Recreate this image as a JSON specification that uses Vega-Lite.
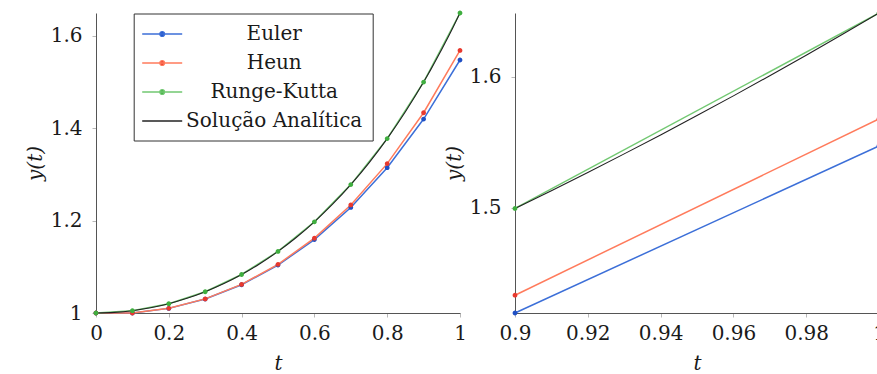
{
  "$schema": "https://vega.github.io/schema/vega-lite/v6.json",
  "background": "white",
  "padding": {"left": 25, "top": 10, "right": 0, "bottom": 0},
  "bounds": "flush",
  "spacing": 55,
  "config": {
    "view": {"stroke": null},
    "axis": {
      "labelFont": "DejaVu Serif",
      "labelFontSize": 20,
      "labelColor": "#1a1a1a",
      "titleFont": "DejaVu Serif",
      "titleFontSize": 20,
      "titleFontStyle": "italic",
      "titleFontWeight": "normal",
      "titleColor": "#1a1a1a",
      "domainColor": "#555555",
      "domainWidth": 1,
      "tickColor": "#b8b8b8",
      "tickSize": 4,
      "grid": false
    },
    "axisX": {"labelPadding": 6, "titlePadding": 10, "labelFlush": false},
    "axisY": {"labelPadding": 10, "titlePadding": 5}
  },
  "datasets": {
    "curves": [
      {"t": 0.0, "y": 1.0, "serie": "Euler"},
      {"t": 0.1, "y": 1.0, "serie": "Euler"},
      {"t": 0.2, "y": 1.01, "serie": "Euler"},
      {"t": 0.3, "y": 1.0302, "serie": "Euler"},
      {"t": 0.4, "y": 1.0611, "serie": "Euler"},
      {"t": 0.5, "y": 1.1036, "serie": "Euler"},
      {"t": 0.6, "y": 1.1587, "serie": "Euler"},
      {"t": 0.7, "y": 1.2282, "serie": "Euler"},
      {"t": 0.8, "y": 1.3142, "serie": "Euler"},
      {"t": 0.9, "y": 1.4194, "serie": "Euler"},
      {"t": 1.0, "y": 1.5471, "serie": "Euler"},
      {"t": 0.0, "y": 1.0, "serie": "Heun"},
      {"t": 0.1, "y": 1.0, "serie": "Heun"},
      {"t": 0.2, "y": 1.0101, "serie": "Heun"},
      {"t": 0.3, "y": 1.0305, "serie": "Heun"},
      {"t": 0.4, "y": 1.0618, "serie": "Heun"},
      {"t": 0.5, "y": 1.1052, "serie": "Heun"},
      {"t": 0.6, "y": 1.1618, "serie": "Heun"},
      {"t": 0.7, "y": 1.2336, "serie": "Heun"},
      {"t": 0.8, "y": 1.323, "serie": "Heun"},
      {"t": 0.9, "y": 1.433, "serie": "Heun"},
      {"t": 1.0, "y": 1.5678, "serie": "Heun"},
      {"t": 0.0, "y": 1.0, "serie": "Runge-Kutta"},
      {"t": 0.1, "y": 1.005, "serie": "Runge-Kutta"},
      {"t": 0.2, "y": 1.0202, "serie": "Runge-Kutta"},
      {"t": 0.3, "y": 1.046, "serie": "Runge-Kutta"},
      {"t": 0.4, "y": 1.0833, "serie": "Runge-Kutta"},
      {"t": 0.5, "y": 1.1331, "serie": "Runge-Kutta"},
      {"t": 0.6, "y": 1.1972, "serie": "Runge-Kutta"},
      {"t": 0.7, "y": 1.2776, "serie": "Runge-Kutta"},
      {"t": 0.8, "y": 1.3771, "serie": "Runge-Kutta"},
      {"t": 0.9, "y": 1.4993, "serie": "Runge-Kutta"},
      {"t": 1.0, "y": 1.6487, "serie": "Runge-Kutta"},
      {"t": 0.0, "y": 1.0, "serie": "Solução Analítica"},
      {"t": 0.05, "y": 1.00125, "serie": "Solução Analítica"},
      {"t": 0.1, "y": 1.00501, "serie": "Solução Analítica"},
      {"t": 0.15, "y": 1.01131, "serie": "Solução Analítica"},
      {"t": 0.2, "y": 1.0202, "serie": "Solução Analítica"},
      {"t": 0.25, "y": 1.03174, "serie": "Solução Analítica"},
      {"t": 0.3, "y": 1.04603, "serie": "Solução Analítica"},
      {"t": 0.35, "y": 1.06316, "serie": "Solução Analítica"},
      {"t": 0.4, "y": 1.08329, "serie": "Solução Analítica"},
      {"t": 0.45, "y": 1.10655, "serie": "Solução Analítica"},
      {"t": 0.5, "y": 1.13315, "serie": "Solução Analítica"},
      {"t": 0.55, "y": 1.16328, "serie": "Solução Analítica"},
      {"t": 0.6, "y": 1.19722, "serie": "Solução Analítica"},
      {"t": 0.65, "y": 1.23522, "serie": "Solução Analítica"},
      {"t": 0.7, "y": 1.27762, "serie": "Solução Analítica"},
      {"t": 0.75, "y": 1.32478, "serie": "Solução Analítica"},
      {"t": 0.8, "y": 1.37713, "serie": "Solução Analítica"},
      {"t": 0.85, "y": 1.43514, "serie": "Solução Analítica"},
      {"t": 0.9, "y": 1.4993, "serie": "Solução Analítica"},
      {"t": 0.91, "y": 1.51293, "serie": "Solução Analítica"},
      {"t": 0.92, "y": 1.52684, "serie": "Solução Analítica"},
      {"t": 0.93, "y": 1.54102, "serie": "Solução Analítica"},
      {"t": 0.94, "y": 1.55551, "serie": "Solução Analítica"},
      {"t": 0.95, "y": 1.57028, "serie": "Solução Analítica"},
      {"t": 0.96, "y": 1.58535, "serie": "Solução Analítica"},
      {"t": 0.97, "y": 1.60071, "serie": "Solução Analítica"},
      {"t": 0.98, "y": 1.61639, "serie": "Solução Analítica"},
      {"t": 0.99, "y": 1.63239, "serie": "Solução Analítica"},
      {"t": 1.0, "y": 1.64872, "serie": "Solução Analítica"}
    ]
  },
  "hconcat": [
    {
      "width": 364,
      "height": 300,
      "data": {"name": "curves"},
      "encoding": {
        "x": {
          "field": "t",
          "type": "quantitative",
          "scale": {"domain": [0, 1], "nice": false, "zero": false},
          "axis": {"values": [0, 0.2, 0.4, 0.6, 0.8, 1], "format": "~g", "title": "t"}
        },
        "y": {
          "field": "y",
          "type": "quantitative",
          "scale": {"domain": [1, 1.6487], "nice": false, "zero": false},
          "axis": {"values": [1, 1.2, 1.4, 1.6], "format": "~g", "title": "y(t)"}
        }
      },
      "layer": [
        {
          "transform": [{"filter": {"field": "serie", "oneOf": ["Euler", "Heun", "Runge-Kutta"]}}],
          "mark": {"type": "line", "strokeWidth": 1.5},
          "encoding": {
            "stroke": {
              "field": "serie",
              "type": "nominal",
              "scale": {
                "domain": ["Euler", "Heun", "Runge-Kutta", "Solução Analítica"],
                "range": ["#3c6fd8", "#ff7b5c", "#72c872", "#222222"]
              },
              "legend": {
                "title": null, "orient": "none", "legendX": 37.7, "legendY": 0.5,
                "padding": 9.5, "strokeColor": "#333333", "fillColor": "white",
                "labelFont": "DejaVu Serif", "labelFontSize": 20, "labelColor": "#1a1a1a",
                "labelAlign": "center", "labelOffset": 101, "labelLimit": 400, "symbolOffset": 8,
                "symbolSize": 400, "symbolStrokeWidth": 1.3, "rowPadding": 8
              }
            }
          }
        },
        {
          "transform": [{"filter": {"field": "serie", "equal": "Solução Analítica"}}],
          "mark": {"type": "line", "strokeWidth": 1.1, "interpolate": "monotone"},
          "encoding": {
            "stroke": {"field": "serie", "type": "nominal"}
          }
        },
        {
          "transform": [{"filter": {"field": "serie", "oneOf": ["Euler", "Heun", "Runge-Kutta"]}}],
          "mark": {"type": "point", "filled": true, "strokeWidth": 0, "size": 400, "opacity": 1, "clip": false},
          "encoding": {
            "fill": {
              "field": "serie",
              "type": "nominal",
              "scale": {
                "domain": ["Euler", "Heun", "Runge-Kutta", "Solução Analítica"],
                "range": ["#1f4fc4", "#e8392e", "#3fae3f", "#222222"]
              },
              "legend": {
                "title": null, "orient": "none", "legendX": 37.7, "legendY": 0.5,
                "padding": 9.5, "strokeColor": "#333333", "fillColor": "white",
                "labelFont": "DejaVu Serif", "labelFontSize": 20, "labelColor": "#1a1a1a",
                "labelAlign": "center", "labelOffset": 101, "labelLimit": 400, "symbolOffset": 8,
                "symbolSize": 400, "symbolStrokeWidth": 1.3, "rowPadding": 8
              }
            },
            "shape": {
              "field": "serie",
              "type": "nominal",
              "scale": {
                "domain": ["Euler", "Heun", "Runge-Kutta", "Solução Analítica"],
                "range": [
                  "M-2,0L2,0M-0.24,0A0.24,0.24,0,1,0,0.24,0A0.24,0.24,0,1,0,-0.24,0",
                  "M-2,0L2,0M-0.24,0A0.24,0.24,0,1,0,0.24,0A0.24,0.24,0,1,0,-0.24,0",
                  "M-2,0L2,0M-0.24,0A0.24,0.24,0,1,0,0.24,0A0.24,0.24,0,1,0,-0.24,0",
                  "M-2,0L2,0"
                ]
              },
              "legend": {
                "title": null, "orient": "none", "legendX": 37.7, "legendY": 0.5,
                "padding": 9.5, "strokeColor": "#333333", "fillColor": "white",
                "labelFont": "DejaVu Serif", "labelFontSize": 20, "labelColor": "#1a1a1a",
                "labelAlign": "center", "labelOffset": 101, "labelLimit": 400, "symbolOffset": 8,
                "symbolSize": 400, "symbolStrokeWidth": 1.3, "rowPadding": 8
              }
            }
          }
        },
        {
          "data": {"values": [{}]},
          "mark": {"type": "point", "shape": "M0,0L0.55,1.4L0,1.1L-0.55,1.4Z", "size": 100, "filled": true, "fill": "#333333", "strokeWidth": 0, "opacity": 1, "clip": false},
          "encoding": {"x": {"datum": 0, "type": "quantitative"}, "y": {"datum": 1.6487, "type": "quantitative"}}
        },
        {
          "data": {"values": [{}]},
          "mark": {"type": "point", "shape": "M0,0L-1.4,0.55L-1.1,0L-1.4,-0.55Z", "size": 100, "filled": true, "fill": "#333333", "strokeWidth": 0, "opacity": 1, "clip": false},
          "encoding": {"x": {"datum": 1, "type": "quantitative"}, "y": {"datum": 1, "type": "quantitative"}}
        }
      ]
    },
    {
      "width": 364,
      "height": 300,
      "data": {"name": "curves"},
      "transform": [{"filter": "datum.t >= 0.9"}],
      "encoding": {
        "x": {
          "field": "t",
          "type": "quantitative",
          "scale": {"domain": [0.9, 1], "nice": false, "zero": false},
          "axis": {"values": [0.9, 0.92, 0.94, 0.96, 0.98, 1], "format": "~g", "title": "t"}
        },
        "y": {
          "field": "y",
          "type": "quantitative",
          "scale": {"domain": [1.4194, 1.6487], "nice": false, "zero": false},
          "axis": {"values": [1.5, 1.6], "format": "~g", "title": "y(t)"}
        }
      },
      "layer": [
        {
          "transform": [{"filter": {"field": "serie", "oneOf": ["Euler", "Heun", "Runge-Kutta"]}}],
          "mark": {"type": "line", "strokeWidth": 1.5},
          "encoding": {"stroke": {"field": "serie", "type": "nominal"}}
        },
        {
          "transform": [{"filter": {"field": "serie", "equal": "Solução Analítica"}}],
          "mark": {"type": "line", "strokeWidth": 1.1, "interpolate": "monotone"},
          "encoding": {"stroke": {"field": "serie", "type": "nominal"}}
        },
        {
          "transform": [{"filter": {"field": "serie", "oneOf": ["Euler", "Heun", "Runge-Kutta"]}}],
          "mark": {"type": "point", "filled": true, "strokeWidth": 0, "size": 400, "opacity": 1, "clip": false},
          "encoding": {
            "fill": {"field": "serie", "type": "nominal"},
            "shape": {"field": "serie", "type": "nominal"}
          }
        },
        {
          "data": {"values": [{}]},
          "mark": {"type": "point", "shape": "M0,0L0.55,1.4L0,1.1L-0.55,1.4Z", "size": 100, "filled": true, "fill": "#333333", "strokeWidth": 0, "opacity": 1, "clip": false},
          "encoding": {"x": {"datum": 0.9, "type": "quantitative"}, "y": {"datum": 1.6487, "type": "quantitative"}}
        },
        {
          "data": {"values": [{}]},
          "mark": {"type": "point", "shape": "M0,0L-1.4,0.55L-1.1,0L-1.4,-0.55Z", "size": 100, "filled": true, "fill": "#333333", "strokeWidth": 0, "opacity": 1, "clip": false},
          "encoding": {"x": {"datum": 1, "type": "quantitative"}, "y": {"datum": 1.4194, "type": "quantitative"}}
        }
      ]
    }
  ]
}
